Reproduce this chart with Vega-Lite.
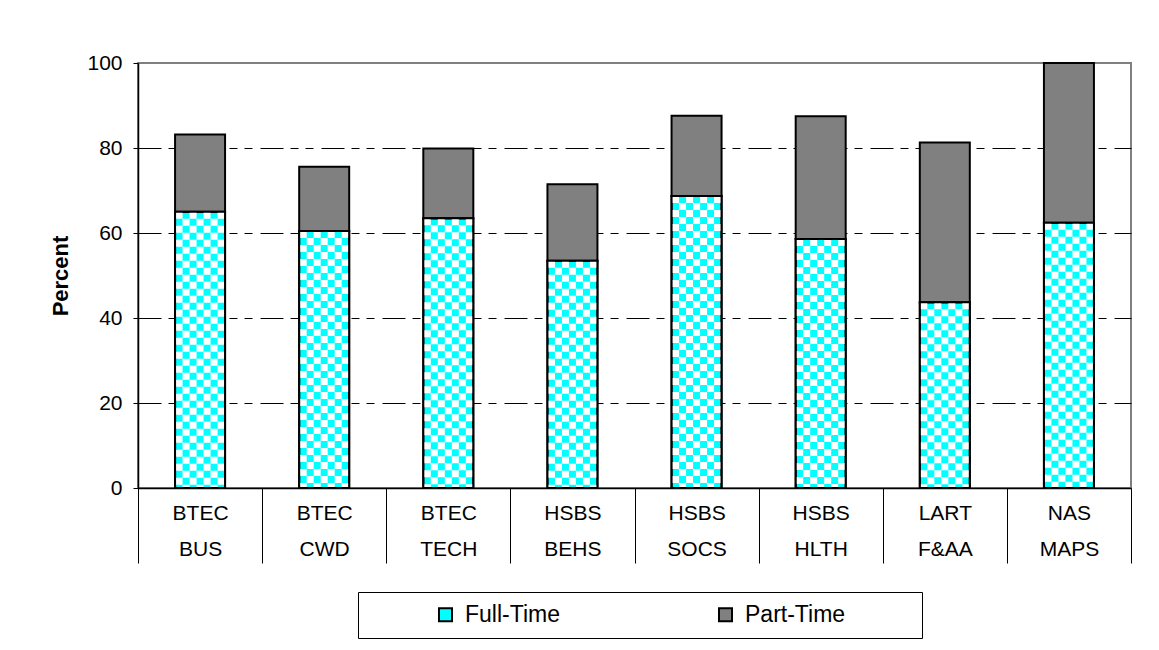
{
  "$schema": "https://vega.github.io/schema/vega-lite/v6.json",
  "width": 993,
  "height": 425,
  "autosize": {"type": "none"},
  "padding": {"left": 138, "top": 63, "right": 28, "bottom": 162},
  "background": "white",
  "config": {
    "font": "Liberation Sans",
    "view": {"stroke": "#808080", "strokeWidth": 2},
    "axis": {"labelFont": "Liberation Sans", "titleFont": "Liberation Sans", "labelColor": "black", "titleColor": "black", "domainColor": "black", "tickColor": "black"}
  },
  "data": {
    "values": [
      {"program": "BTEC BUS", "type": "Full-Time", "value": 65.0},
      {"program": "BTEC BUS", "type": "Part-Time", "value": 18.2},
      {"program": "BTEC CWD", "type": "Full-Time", "value": 60.5},
      {"program": "BTEC CWD", "type": "Part-Time", "value": 15.1},
      {"program": "BTEC TECH", "type": "Full-Time", "value": 63.5},
      {"program": "BTEC TECH", "type": "Part-Time", "value": 16.4},
      {"program": "HSBS BEHS", "type": "Full-Time", "value": 53.5},
      {"program": "HSBS BEHS", "type": "Part-Time", "value": 18.0},
      {"program": "HSBS SOCS", "type": "Full-Time", "value": 68.7},
      {"program": "HSBS SOCS", "type": "Part-Time", "value": 18.9},
      {"program": "HSBS HLTH", "type": "Full-Time", "value": 58.6},
      {"program": "HSBS HLTH", "type": "Part-Time", "value": 28.9},
      {"program": "LART F&AA", "type": "Full-Time", "value": 43.7},
      {"program": "LART F&AA", "type": "Part-Time", "value": 37.6},
      {"program": "NAS MAPS", "type": "Full-Time", "value": 62.4},
      {"program": "NAS MAPS", "type": "Part-Time", "value": 37.6}
    ]
  },
  "encoding": {
    "x": {
      "field": "program",
      "type": "nominal",
      "sort": ["BTEC BUS", "BTEC CWD", "BTEC TECH", "HSBS BEHS", "HSBS SOCS", "HSBS HLTH", "LART F&AA", "NAS MAPS"],
      "scale": {"paddingInner": 0, "paddingOuter": 0},
      "axis": {
        "title": null,
        "labelAngle": 0,
        "labelExpr": "split(datum.label, ' ')",
        "labelFontSize": 21,
        "labelLineHeight": 36,
        "labelBaseline": "top",
        "labelPadding": -61,
        "tickBand": "extent",
        "tickSize": 75,
        "tickWidth": 1,
        "domainWidth": 1.5
      }
    },
    "y": {
      "field": "value",
      "type": "quantitative",
      "scale": {"domain": [0, 100]},
      "axis": {
        "title": "Percent",
        "titleFontSize": 22,
        "titleFontWeight": "bold",
        "titlePadding": 14,
        "values": [0, 20, 40, 60, 80, 100],
        "labelFontSize": 21,
        "labelPadding": 11,
        "tickSize": 5,
        "domainWidth": 1.5,
        "grid": true,
        "gridColor": "black",
        "gridWidth": 1,
        "gridDash": [23, 7, 8, 7, 8, 8],
        "gridOpacity": {"condition": {"test": "datum.value == 0 || datum.value == 100", "value": 0}, "value": 1}
      }
    }
  },
  "layer": [
    {
      "mark": {"type": "bar", "size": 50, "stroke": "black", "strokeWidth": 2},
      "encoding": {
        "order": {"field": "type", "sort": "ascending"},
        "color": {
          "field": "type",
          "type": "nominal",
          "scale": {"domain": ["Full-Time", "Part-Time"], "range": ["#00FFFF", "#808080"]},
          "legend": {
            "title": " ",
            "titleOrient": "right",
            "titleFontSize": 1,
            "titlePadding": 66,
            "orient": "none",
            "legendX": 220,
            "legendY": 529,
            "direction": "horizontal",
            "columns": 2,
            "padding": 11,
            "symbolOffset": 65,
            "columnPadding": 89,
            "labelOffset": 8,
            "labelFontSize": 23,
            "labelFont": "Liberation Sans",
            "labelColor": "black",
            "symbolType": "square",
            "symbolSize": 169,
            "symbolStrokeColor": "black",
            "symbolStrokeWidth": 2,
            "strokeColor": "black",
            "fillColor": "white"
          }
        }
      }
    },
    {
      "transform": [{"filter": "datum.type === 'Full-Time'"}],
      "mark": {"type": "rule", "color": "white", "strokeWidth": 7, "strokeDash": [7, 7], "strokeDashOffset": 0, "xOffset": -21},
      "encoding": {"y2": {"datum": 0}}
    },
    {
      "transform": [{"filter": "datum.type === 'Full-Time'"}],
      "mark": {"type": "rule", "color": "white", "strokeWidth": 7, "strokeDash": [7, 7], "strokeDashOffset": 7, "xOffset": -14},
      "encoding": {"y2": {"datum": 0}}
    },
    {
      "transform": [{"filter": "datum.type === 'Full-Time'"}],
      "mark": {"type": "rule", "color": "white", "strokeWidth": 7, "strokeDash": [7, 7], "strokeDashOffset": 0, "xOffset": -7},
      "encoding": {"y2": {"datum": 0}}
    },
    {
      "transform": [{"filter": "datum.type === 'Full-Time'"}],
      "mark": {"type": "rule", "color": "white", "strokeWidth": 7, "strokeDash": [7, 7], "strokeDashOffset": 7, "xOffset": 0},
      "encoding": {"y2": {"datum": 0}}
    },
    {
      "transform": [{"filter": "datum.type === 'Full-Time'"}],
      "mark": {"type": "rule", "color": "white", "strokeWidth": 7, "strokeDash": [7, 7], "strokeDashOffset": 0, "xOffset": 7},
      "encoding": {"y2": {"datum": 0}}
    },
    {
      "transform": [{"filter": "datum.type === 'Full-Time'"}],
      "mark": {"type": "rule", "color": "white", "strokeWidth": 7, "strokeDash": [7, 7], "strokeDashOffset": 7, "xOffset": 14},
      "encoding": {"y2": {"datum": 0}}
    },
    {
      "transform": [{"filter": "datum.type === 'Full-Time'"}],
      "mark": {"type": "rule", "color": "white", "strokeWidth": 7, "strokeDash": [7, 7], "strokeDashOffset": 0, "xOffset": 21},
      "encoding": {"y2": {"datum": 0}}
    },
    {
      "transform": [{"filter": "datum.type === 'Full-Time'"}],
      "mark": {"type": "bar", "size": 50, "fill": "transparent", "stroke": "black", "strokeWidth": 2},
      "encoding": {}
    }
  ]
}
